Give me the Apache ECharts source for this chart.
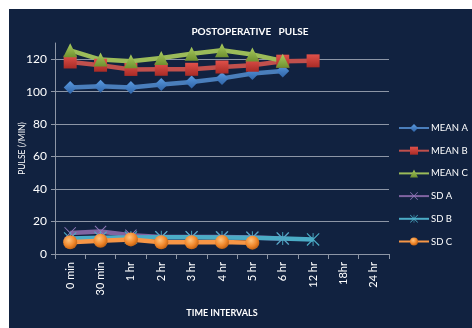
<!DOCTYPE html>
<html>
<head>
<meta charset="utf-8">
<script src="https://cdn.jsdelivr.net/npm/echarts@6/dist/echarts.min.js"></script>
<style>
  html, body { margin: 0; padding: 0; background: #ffffff; }
  #panel { position: absolute; left: 9px; top: 9px; width: 463px; height: 319px; background: #112240; }
  #chart { position: absolute; left: 0; top: 0; width: 472px; height: 328px; }
</style>
</head>
<body>
<div id="panel"></div>
<div id="chart"></div>
<script>
// Time points after surgery
const timeLabels = ['0 min', '30 min', '1 hr', '2 hr', '3 hr', '4 hr', '5 hr', '6 hr', '12 hr', '18hr', '24 hr'];

// Mean pulse (beats/min) per group
const meanA = [102.6, 103.3, 102.6, 104.5, 106, 108.2, 111.2, 112.8, null, null, null];
const meanB = [118.3, 116.3, 113.7, 113.8, 113.8, 115.2, 116.3, 118.8, 119, null, null];
const meanC = [125.5, 119.8, 118.8, 120.8, 123.4, 125.5, 122.9, 119, null, null, null];

// Standard deviations per group
const sdA = [13, 13.8, 11.5, 10.5, 10.5, 10.5, 10.2, 9.6, null, null, null];
const sdB = [9.6, 10, 10.2, 10.3, 10.3, 10.2, 10, 9.6, 9, null, null];
const sdC = [7.2, 8.2, 9, 7.2, 7.2, 7.4, 7, null, null, null, null];

const yTicks = { min: 0, max: 130, step: 20 };

const crossPath = 'path://M0,1.2L1.2,0L20,18.8L18.8,20Z M18.8,0L20,1.2L1.2,20L0,18.8Z';
const starPath = 'path://M0,1.2L1.2,0L20,18.8L18.8,20Z M18.8,0L20,1.2L1.2,20L0,18.8Z M9.3,0L10.7,0L10.7,20L9.3,20Z';

function grad(top, bottom) {
  return new echarts.graphic.LinearGradient(0, 0, 0, 1, [
    { offset: 0, color: top }, { offset: 1, color: bottom }
  ]);
}

const chart = echarts.init(document.getElementById('chart'), null, { renderer: 'canvas' });

const font = 'Lato, "Open Sans", sans-serif';

function lineSeries(name, data, color, symbol, size, itemColor) {
  return {
    name: name,
    type: 'line',
    data: data,
    symbol: symbol,
    symbolSize: size,
    showAllSymbol: true,
    connectNulls: false,
    lineStyle: { color: color, width: 4.5 },
    itemStyle: { color: itemColor || color, borderWidth: 0 },
    emphasis: { disabled: true }
  };
}

chart.setOption({
  animation: false,
  backgroundColor: 'transparent',
  textStyle: { fontFamily: font },
  title: {
    text: 'POSTOPERATIVE   PULSE',
    left: 245,
    textAlign: 'center',
    top: 22,
    textStyle: { color: '#ffffff', fontSize: 10, fontWeight: 'bold', fontFamily: font }
  },
  // vertical axis title, placed beside the value labels
  graphic: [{
    type: 'text',
    x: 22,
    y: 148.5,
    rotation: Math.PI / 2,
    style: {
      text: 'PULSE (/MIN)',
      fill: '#ffffff',
      font: '8.5px ' + font,
      align: 'center',
      verticalAlign: 'middle'
    },
    silent: true
  }],
  legend: {
    orient: 'vertical',
    left: 393,
    top: 118,
    itemWidth: 30,
    itemHeight: 10,
    itemGap: 12.7,
    textStyle: { color: '#ffffff', fontSize: 9.5, fontFamily: font, padding: [0, 0, 0, -3] },
    data: ['MEAN A', 'MEAN B', 'MEAN C', 'SD A', 'SD B', 'SD C']
  },
  grid: { left: 55, right: 83, top: 43, bottom: 74, containLabel: false },
  xAxis: {
    type: 'category',
    data: timeLabels,
    boundaryGap: true,
    name: 'TIME INTERVALS',
    nameLocation: 'middle',
    nameGap: 55,
    nameTextStyle: { color: '#ffffff', fontSize: 9, fontWeight: 'bold', fontFamily: font },
    axisLine: { lineStyle: { color: '#8d96a6', width: 1 } },
    axisTick: { show: true, length: 5, lineStyle: { color: '#8d96a6' } },
    axisLabel: { rotate: 90, color: '#ffffff', fontSize: 11, margin: 8, fontFamily: font }
  },
  yAxis: {
    type: 'value',
    min: yTicks.min,
    max: yTicks.max,
    interval: yTicks.step,
    axisLine: { show: true, lineStyle: { color: '#8d96a6', width: 1 } },
    axisTick: { show: true, length: 4, lineStyle: { color: '#8d96a6' } },
    axisLabel: { color: '#ffffff', fontSize: 12, margin: 8, fontFamily: font, showMaxLabel: false },
    splitLine: {
      show: true,
      lineStyle: { color: ['#8d96a6', '#8d96a6', '#8d96a6', '#8d96a6', '#8d96a6', '#8d96a6', '#8d96a6', 'rgba(0,0,0,0)'], width: 1 }
    }
  },
  series: [
    lineSeries('MEAN A', meanA, '#4a7ebb', 'diamond', 13, grad('#5b9be0', '#2f64a8')),
    lineSeries('MEAN B', meanB, '#c0504d', 'rect', 13, grad('#e0514a', '#a82b26')),
    lineSeries('MEAN C', meanC, '#9bbb59', 'triangle', 14, grad('#a9cc5f', '#6f902f')),
    lineSeries('SD A', sdA, '#8064a2', crossPath, 12, '#8e78b8'),
    lineSeries('SD B', sdB, '#4bacc6', starPath, 13, '#4bacc6'),
    lineSeries('SD C', sdC, '#f79646', 'circle', 14,
      new echarts.graphic.RadialGradient(0.4, 0.35, 0.7, [
        { offset: 0, color: '#ffc27a' }, { offset: 0.6, color: '#f0862a' }, { offset: 1, color: '#b85c10' }
      ]))
  ]
});
</script>
</body>
</html>
